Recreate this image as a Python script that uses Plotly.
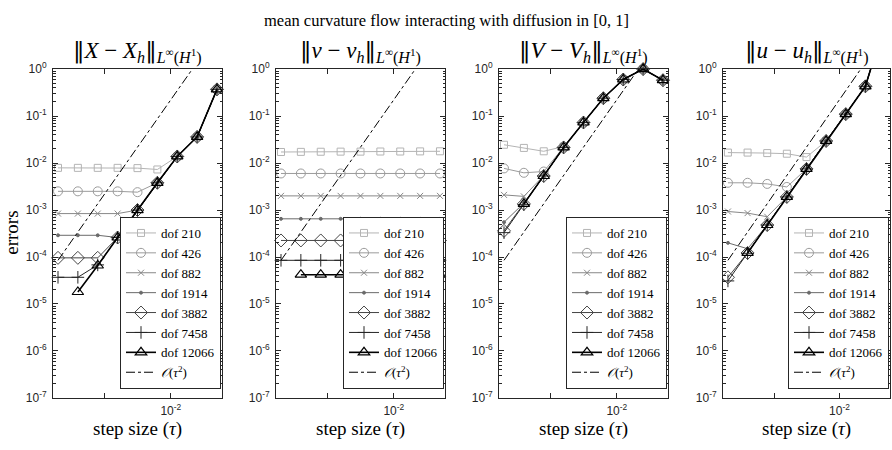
import plotly.graph_objects as go

# ---------------- data ----------------
tau = [1.953125e-4, 3.90625e-4, 7.8125e-4, 1.5625e-3, 3.125e-3, 6.25e-3, 1.25e-2, 2.5e-2, 5e-2]

dof_labels = ["dof 210", "dof 426", "dof 882", "dof 1914", "dof 3882", "dof 7458", "dof 12066"]
order_label = "<i>𝒪</i>(<i>τ</i><sup>2</sup>)"

# O(tau^2) reference values read at the step sizes
order_ref = [8.5e-5, 3.4e-4, 1.36e-3, 5.4e-3, 2.18e-2, 8.7e-2, 0.35, 1.39, 5.57]

# panel 1: ||X - X_h||
err_X = [
    [7.9e-3, 7.9e-3, 7.9e-3, 7.9e-3, 7.8e-3, 7.3e-3, 1.38e-2, 3.6e-2, 0.37],
    [2.5e-3, 2.5e-3, 2.5e-3, 2.5e-3, 2.4e-3, 3.8e-3, 1.38e-2, 3.6e-2, 0.37],
    [8.4e-4, 8.4e-4, 8.4e-4, 8.4e-4, 1.0e-3, 3.8e-3, 1.38e-2, 3.6e-2, 0.37],
    [2.9e-4, 2.9e-4, 2.9e-4, 2.6e-4, 1.0e-3, 3.8e-3, 1.38e-2, 3.6e-2, 0.37],
    [9.6e-5, 9.6e-5, 9.6e-5, 2.6e-4, 1.0e-3, 3.8e-3, 1.38e-2, 3.6e-2, 0.37],
    [3.7e-5, 3.7e-5, 6.8e-5, 2.6e-4, 1.0e-3, 3.8e-3, 1.38e-2, 3.6e-2, 0.37],
    [None, 1.8e-5, 6.6e-5, 2.6e-4, 1.0e-3, 3.8e-3, 1.38e-2, 3.6e-2, 0.37],
]

# panel 2: ||nu - nu_h||
err_nu = [
    [1.72e-2, 1.73e-2, 1.74e-2, 1.75e-2, 1.75e-2, 1.76e-2, 1.76e-2, 1.77e-2, 1.78e-2],
    [6.0e-3, 6.0e-3, 6.0e-3, 6.0e-3, 6.0e-3, 6.0e-3, 6.0e-3, 6.0e-3, 6.0e-3],
    [2.0e-3, 2.0e-3, 2.0e-3, 2.0e-3, 2.0e-3, 2.0e-3, 2.0e-3, 2.0e-3, 2.0e-3],
    [6.5e-4, 6.5e-4, 6.5e-4, 6.5e-4, 6.5e-4, 6.5e-4, 6.5e-4, 6.5e-4, 6.5e-4],
    [2.25e-4, 2.25e-4, 2.25e-4, 2.25e-4, 2.25e-4, 2.25e-4, 2.25e-4, 2.25e-4, 2.25e-4],
    [8.5e-5, 8.5e-5, 8.5e-5, 8.5e-5, 8.5e-5, 8.5e-5, 8.5e-5, 8.5e-5, 8.5e-5],
    [None, 4.2e-5, 4.2e-5, 4.2e-5, 4.2e-5, 4.2e-5, 4.2e-5, 4.2e-5, 4.2e-5],
]

# panel 3: ||V - V_h||
err_V = [
    [2.45e-2, 2.1e-2, 1.78e-2, 2.25e-2, 7.3e-2, 0.24, 0.6, 1.0, 0.58],
    [7.7e-3, 6.2e-3, 6.6e-3, 2.15e-2, 7.3e-2, 0.24, 0.6, 1.0, 0.58],
    [2.1e-3, 1.95e-3, 5.4e-3, 2.15e-2, 7.3e-2, 0.24, 0.6, 1.0, 0.58],
    [5.5e-4, 1.4e-3, 5.3e-3, 2.15e-2, 7.3e-2, 0.24, 0.6, 1.0, 0.58],
    [3.6e-4, 1.35e-3, 5.3e-3, 2.15e-2, 7.3e-2, 0.24, 0.6, 1.0, 0.58],
    [3.3e-4, 1.3e-3, 5.3e-3, 2.15e-2, 7.3e-2, 0.24, 0.6, 1.0, 0.58],
    [None, 1.35e-3, 5.3e-3, 2.15e-2, 7.3e-2, 0.24, 0.6, 1.0, 0.58],
]

# panel 4: ||u - u_h||
err_u = [
    [1.67e-2, 1.67e-2, 1.63e-2, 1.58e-2, 1.34e-2, 2.95e-2, 0.11, 0.43, 10.0],
    [3.8e-3, 3.8e-3, 3.6e-3, 3.1e-3, 7.5e-3, 2.95e-2, 0.11, 0.43, 10.0],
    [9.3e-4, 8.6e-4, 7.2e-4, 1.9e-3, 7.5e-3, 2.95e-2, 0.11, 0.43, 10.0],
    [2.0e-4, 1.5e-4, 4.8e-4, 1.9e-3, 7.5e-3, 2.95e-2, 0.11, 0.43, 10.0],
    [3.7e-5, 1.22e-4, 4.8e-4, 1.9e-3, 7.5e-3, 2.95e-2, 0.11, 0.43, 10.0],
    [3.1e-5, 1.2e-4, 4.8e-4, 1.9e-3, 7.5e-3, 2.95e-2, 0.11, 0.43, 10.0],
    [None, 1.22e-4, 4.8e-4, 1.9e-3, 7.5e-3, 2.95e-2, 0.11, 0.43, 10.0],
]

panel_data = [err_X, err_nu, err_V, err_u]
BAR = "<span style='font-family:DejaVu Serif'>‖</span>"
panel_titles = [
    BAR + "<i>X</i> − <i>X</i><sub><i>h</i></sub>" + BAR + "<sub><i>L</i><sup>∞</sup>(<i>H</i><sup>1</sup>)</sub>",
    BAR + "<i>ν</i> − <i>ν</i><sub><i>h</i></sub>" + BAR + "<sub><i>L</i><sup>∞</sup>(<i>H</i><sup>1</sup>)</sub>",
    BAR + "<i>V</i> − <i>V</i><sub><i>h</i></sub>" + BAR + "<sub><i>L</i><sup>∞</sup>(<i>H</i><sup>1</sup>)</sub>",
    BAR + "<i>u</i> − <i>u</i><sub><i>h</i></sub>" + BAR + "<sub><i>L</i><sup>∞</sup>(<i>H</i><sup>1</sup>)</sub>",
]
main_title = "mean curvature flow interacting with diffusion in [0, 1]"
y_tick_vals = [1e-7, 1e-6, 1e-5, 1e-4, 1e-3, 1e-2, 1e-1, 1e0]
y_tick_text = ["10<sup>-7</sup>", "10<sup>-6</sup>", "10<sup>-5</sup>", "10<sup>-4</sup>",
               "10<sup>-3</sup>", "10<sup>-2</sup>", "10<sup>-1</sup>", "10<sup>0</sup>"]
x_tick_vals = [1e-3, 1e-2]
x_tick_text = ["", "10<sup>-2</sup>"]

# ---------------- styles ----------------
W, H = 892, 450
styles = [
    dict(color="#b4b4b4", symbol="square-open", size=7, lw=1.0),
    dict(color="#9c9c9c", symbol="circle-open", size=9, lw=1.0),
    dict(color="#888888", symbol="x-thin-open", size=6, lw=1.0),
    dict(color="#6a6a6a", symbol="circle", size=3, lw=1.0),
    dict(color="#454545", symbol="diamond-open", size=10, lw=1.0),
    dict(color="#252525", symbol="cross-thin-open", size=9, lw=1.0),
    dict(color="#000000", symbol="triangle-up-open", size=10, lw=1.6),
]
panels_px = [(53, 222), (276, 445), (499, 668), (723, 890)]
top_px, bot_px = 62.3, 403.3
x_range = [-3.785, -1.225]
axis_color = "#262626"
serif = "Liberation Serif"

fig = go.Figure()

minor_y = [k * 10.0 ** e for e in range(-7, 0) for k in range(2, 10)]

for p, data in enumerate(panel_data):
    xa = "x" if p == 0 else f"x{p+1}"
    ya = "y" if p == 0 else f"y{p+1}"
    leg = "legend" if p == 0 else f"legend{p+1}"
    clip = (p == 3)
    for s, (vals, st) in enumerate(zip(data, styles)):
        fig.add_trace(go.Scatter(
            x=tau, y=vals, mode="lines+markers", name=dof_labels[s],
            xaxis=xa, yaxis=ya, legend=leg, cliponaxis=clip,
            line=dict(color=st["color"], width=st["lw"]),
            marker=dict(symbol=st["symbol"], size=st["size"], color=st["color"],
                        line=dict(color=st["color"], width=1.2 if s == 6 else 1)),
            connectgaps=False,
        ))
    fig.add_trace(go.Scatter(
        x=tau, y=order_ref, mode="lines", name=order_label,
        xaxis=xa, yaxis=ya, legend=leg,
        line=dict(color="#000000", width=1, dash="dashdot"),
    ))

layout = dict(
    width=W, height=H, margin=dict(l=0, r=0, t=0, b=0),
    paper_bgcolor="white", plot_bgcolor="white", showlegend=True,
    annotations=[],
)

common_axis = dict(
    type="log", showgrid=False, zeroline=False, showline=True,
    linecolor=axis_color, linewidth=1, mirror="ticks", ticks="inside",
    ticklen=5, tickwidth=1, tickcolor=axis_color,
    tickfont=dict(family="Liberation Sans", size=12, color=axis_color),
)

for p, (x0, x1) in enumerate(panels_px):
    sfx = "" if p == 0 else str(p + 1)
    layout["xaxis" + sfx] = dict(
        common_axis, domain=[x0 / W, x1 / W], range=x_range,
        anchor="y" + sfx, tickmode="array", tickvals=x_tick_vals, ticktext=x_tick_text,
        ticklabelstandoff=2,
    )
    layout["yaxis" + sfx] = dict(
        common_axis, domain=[1 - bot_px / H, 1 - top_px / H], range=[-7, 0],
        anchor="x" + sfx, tickmode="array", tickvals=y_tick_vals, ticktext=y_tick_text,
        ticklabelstandoff=3,
        minor=dict(tickmode="array", tickvals=minor_y, ticks="inside", ticklen=2.5,
                   tickcolor=axis_color, showgrid=False),
    )
    layout["legend" + sfx] = dict(
        x=(x1 - 1) / W, y=1 - 394 / H, xanchor="right", yanchor="bottom",
        bgcolor="white", bordercolor=axis_color, borderwidth=1,
        font=dict(family=serif, size=13, color="#000000"),
        itemwidth=30, tracegroupgap=0,
    )
    cx = (x0 + x1) / 2 / W
    layout["annotations"].append(dict(
        text=panel_titles[p], x=cx, y=1 - 45 / H, xref="paper", yref="paper",
        xanchor="center", yanchor="middle", showarrow=False,
        font=dict(family=serif, size=23, color="#000000"),
    ))
    layout["annotations"].append(dict(
        text="step size (<i>τ</i>)", x=cx, y=1 - 436 / H, xref="paper", yref="paper",
        xanchor="center", yanchor="middle", showarrow=False,
        font=dict(family=serif, size=19, color="#000000"),
    ))

layout["annotations"].append(dict(
    text=main_title, x=0.5, y=1 - 12 / H, xref="paper", yref="paper",
    xanchor="center", yanchor="middle", showarrow=False,
    font=dict(family=serif, size=16.5, color="#000000"),
))
layout["annotations"].append(dict(
    text="errors", x=12 / W, y=1 - 232 / H, xref="paper", yref="paper",
    xanchor="center", yanchor="middle", showarrow=False, textangle=-90,
    font=dict(family=serif, size=19, color="#000000"),
))

fig.update_layout(**layout)
fig.write_html("out.html")
